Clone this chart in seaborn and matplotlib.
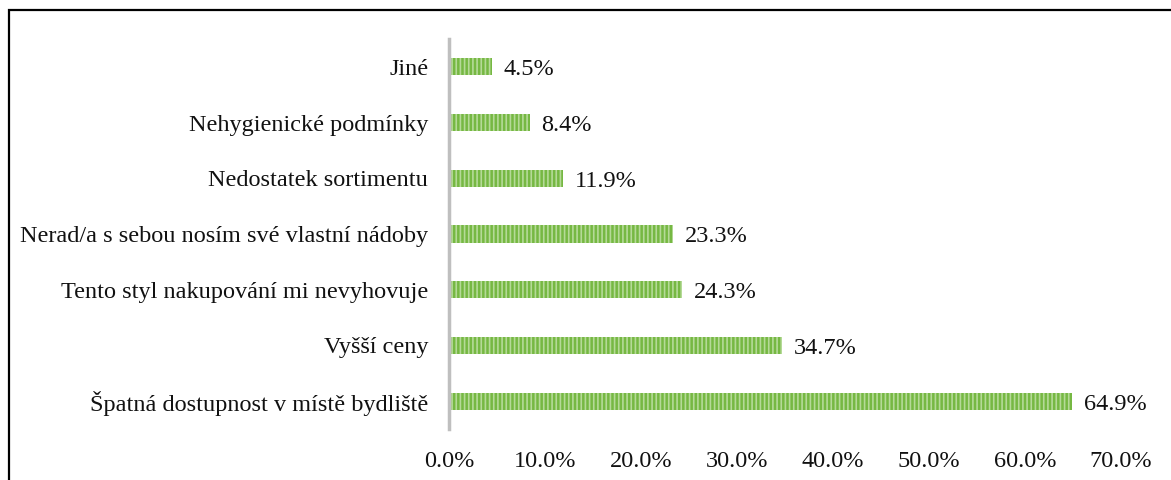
import pandas as pd
import matplotlib.pyplot as plt
import seaborn as sns
from matplotlib.patches import Rectangle

categories = ['Jiné', 'Nehygienické podmínky', 'Nedostatek sortimentu',
              'Nerad/a s sebou nosím své vlastní nádoby',
              'Tento styl nakupování mi nevyhovuje', 'Vyšší ceny',
              'Špatná dostupnost v místě bydliště']
values = [4.5, 8.4, 11.9, 23.3, 24.3, 34.7, 64.9]
ticks = [0, 10, 20, 30, 40, 50, 60, 70]

df = pd.DataFrame({'reason': categories, 'pct': values})

sns.set_style('white')
plt.rcParams['font.family'] = ['Liberation Serif', 'DejaVu Serif']
plt.rcParams['hatch.linewidth'] = 1.2

fs = 17.5

fig = plt.figure(figsize=(11.71, 4.8), dpi=100)
ax = fig.add_axes([0.3834, 0.106, 0.5739, 0.813])

sns.barplot(data=df, x='pct', y='reason', orient='h', ax=ax, width=0.31,
            color='#76B843', saturation=1, hatch='||||', edgecolor='#B5DA98',
            linewidth=0)

for i, v in enumerate(values):
    ax.annotate(f'{v:.1f}%', (v, i), xytext=(8.5, -2), textcoords='offset points',
                va='center', ha='left', fontsize=fs, color='#111111')

ax.set_xlim(0, 70)
ax.set_ylim(6.5, -0.5)
ax.set_xticks(ticks)
ax.set_xticklabels([f'{t:.1f}%' for t in ticks])
ax.set_xlabel('')
ax.set_ylabel('')
ax.tick_params(axis='x', length=0, pad=16, labelsize=fs, colors='#111111')
ax.tick_params(axis='y', length=0, pad=15, labelsize=fs, colors='#111111')

for s in ['top', 'right', 'bottom']:
    ax.spines[s].set_visible(False)
ax.spines['left'].set_color('#BFBFBF')
ax.spines['left'].set_linewidth(2.5)

fig.patches.append(Rectangle((8.5 / 1171, -0.1), 1.2, 1.1 - 10 / 480,
                             transform=fig.transFigure, fill=False,
                             edgecolor='black', linewidth=1.6))

fig.savefig('out.png', dpi=100)
